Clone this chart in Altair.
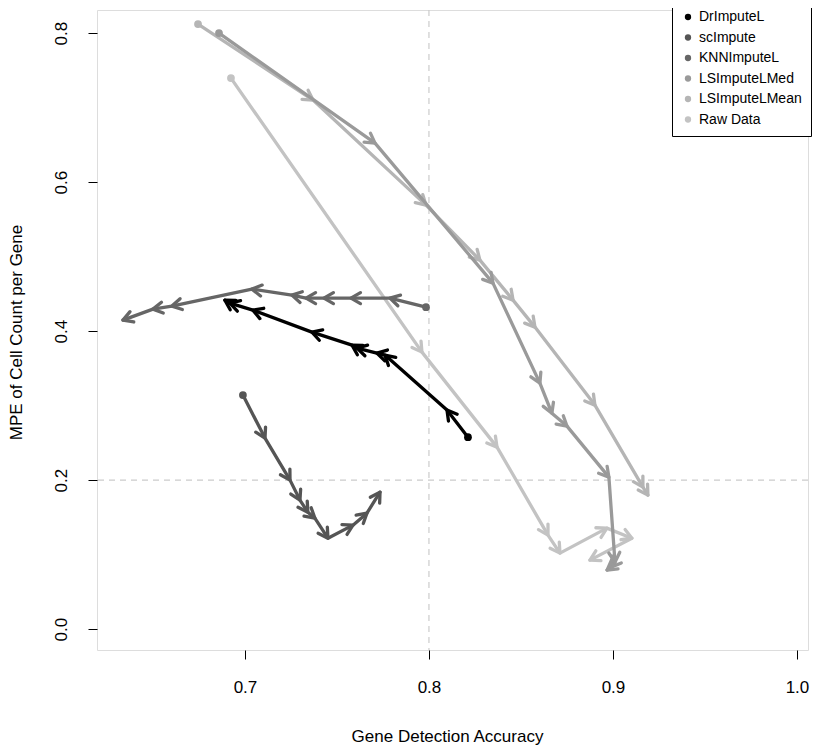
import math
import altair as alt
import pandas as pd

# ---- data ----
series_names = ["DrImputeL", "scImpute", "KNNImputeL", "LSImputeLMed", "LSImputeLMean", "Raw Data"]
series_colors = ["#000000", "#555555", "#666666", "#9a9a9a", "#b5b5b5", "#c3c3c3"]

dr_x = [0.8212, 0.8098, 0.7761, 0.7717, 0.7609, 0.7582, 0.7364, 0.7043, 0.6918, 0.6891]
dr_y = [0.2577, 0.2940, 0.3678, 0.3705, 0.3772, 0.3812, 0.3987, 0.4282, 0.4376, 0.4416]

sc_x = [0.6989, 0.7109, 0.7245, 0.7299, 0.7342, 0.7380, 0.7451, 0.7587, 0.7663, 0.7734]
sc_y = [0.3141, 0.2564, 0.2000, 0.1732, 0.1570, 0.1490, 0.1221, 0.1396, 0.1557, 0.1839]

knn_x = [0.7984, 0.7788, 0.7576, 0.7429, 0.7332, 0.7255, 0.7038, 0.6603, 0.6500, 0.6337]
knn_y = [0.4322, 0.4443, 0.4443, 0.4443, 0.4443, 0.4483, 0.4564, 0.4336, 0.4295, 0.4148]

med_x = [0.6859, 0.7707, 0.8348, 0.8603, 0.8668, 0.8750, 0.8978, 0.9011, 0.8990, 0.8968]
med_y = [0.8000, 0.6523, 0.4644, 0.3302, 0.2899, 0.2725, 0.2040, 0.0899, 0.0832, 0.0792]

mean_x = [0.6745, 0.7370, 0.7984, 0.8277, 0.8457, 0.8576, 0.8902, 0.9163, 0.9190]
mean_y = [0.8121, 0.7101, 0.5691, 0.4953, 0.4416, 0.4054, 0.3007, 0.1906, 0.1799]

raw_x = [0.6924, 0.7962, 0.8370, 0.8647, 0.8712, 0.8967, 0.9103, 0.8875]
raw_y = [0.7396, 0.3718, 0.2443, 0.1262, 0.1020, 0.1356, 0.1221, 0.0926]

xs_all = [dr_x, sc_x, knn_x, med_x, mean_x, raw_x]
ys_all = [dr_y, sc_y, knn_y, med_y, mean_y, raw_y]

x_ticks = [0.7, 0.8, 0.9, 1.0]
y_ticks = [0.0, 0.2, 0.4, 0.6, 0.8]
ref_x = [0.8]
ref_y = [0.2]

# ---- layout ----
X_DOMAIN = [0.6196, 1.006]
Y_DOMAIN = [-0.028, 0.831]
W, H = 711, 640
FONT = "Liberation Sans"

kx = W / (X_DOMAIN[1] - X_DOMAIN[0])
ky = H / (Y_DOMAIN[1] - Y_DOMAIN[0])

rows = []
for name, xs, ys in zip(series_names, xs_all, ys_all):
    for i, (x, y) in enumerate(zip(xs, ys)):
        if i == 0:
            ang = 0.0
        else:
            dx = (x - xs[i - 1]) * kx
            dy = -(y - ys[i - 1]) * ky
            ang = math.degrees(math.atan2(dy, dx)) % 360
        rows.append({"series": name, "idx": i, "x": x, "y": y, "angle": ang})
df = pd.DataFrame(rows)

xscale = alt.Scale(domain=X_DOMAIN, nice=False, zero=False)
yscale = alt.Scale(domain=Y_DOMAIN, nice=False, zero=False)

x_axis = alt.Axis(
    values=x_ticks, format=".1f", grid=False, domain=False,
    tickSize=9, tickColor="black", tickWidth=1,
    labelFontSize=17, labelColor="black", labelPadding=20, labelFont=FONT,
    title="Gene Detection Accuracy", titleFontSize=17, titleFontWeight="normal",
    titleColor="black", titleFont=FONT, titleBaseline="middle", titleY=86, titleX=350,
)
y_axis = alt.Axis(
    values=y_ticks, format=".1f", grid=False, domain=False,
    tickSize=9, tickColor="black", tickWidth=1,
    labelFontSize=17, labelColor="black", labelPadding=18, labelFont=FONT,
    labelAngle=270, labelAlign="center", labelBaseline="bottom",
    title="MPE of Cell Count per Gene", titleFontSize=17, titleFontWeight="normal",
    titleColor="black", titleFont=FONT, titleAngle=270, titleAlign="center",
    titleBaseline="middle", titleX=-81, titleY=322,
)

X = alt.X("x:Q", scale=xscale, axis=x_axis)
Y = alt.Y("y:Q", scale=yscale, axis=y_axis)

ARROW = "M-0.866,-0.5L0,0L-0.866,0.5"

layers = []
layers.append(
    alt.Chart(pd.DataFrame({"x": ref_x})).mark_rule(
        color="#cccccc", strokeWidth=1.2, strokeDash=[6, 5]
    ).encode(x=X)
)
layers.append(
    alt.Chart(pd.DataFrame({"y": ref_y})).mark_rule(
        color="#cccccc", strokeWidth=1.2, strokeDash=[6, 5]
    ).encode(y=Y)
)

draw_order = list(range(len(series_names)))[::-1]
for k in draw_order:
    name, col = series_names[k], series_colors[k]
    base = alt.Chart(df).transform_filter(alt.datum.series == name)
    layers.append(
        base.mark_line(color=col, strokeWidth=3.3, strokeCap="round", strokeJoin="round").encode(
            x=X, y=Y, order="idx:Q"
        )
    )
    layers.append(
        base.transform_filter(alt.datum.idx > 0).mark_point(
            shape=ARROW, filled=False, color=col, strokeWidth=3.3, size=484, opacity=1,
            strokeCap="round", strokeJoin="round",
        ).encode(x=X, y=Y, angle=alt.Angle("angle:Q", scale=None))
    )

layers.append(
    alt.Chart(df).transform_filter(alt.datum.idx == 0).mark_point(
        shape="circle", filled=True, size=60, opacity=1
    ).encode(
        x=X, y=Y,
        color=alt.Color(
            "series:N",
            scale=alt.Scale(domain=series_names, range=series_colors),
            legend=alt.Legend(
                orient="none", legendX=575, legendY=-9, title=None,
                symbolType="circle", symbolSize=40, symbolStrokeWidth=0,
                labelFont=FONT, labelFontSize=14, labelColor="black",
                strokeColor="black", fillColor="white", padding=9,
                rowPadding=6.5, labelOffset=4, cornerRadius=0,
            ),
        ),
    )
)

chart = alt.layer(*layers).properties(
    width=W, height=H,
    padding={"left": 89, "top": 2, "right": 9, "bottom": 95},
    autosize=alt.AutoSizeParams(type="none"),
).configure_view(stroke="black", strokeWidth=1.2).configure(font=FONT)

chart.save("out.html", embed_options={"renderer": "svg", "actions": False})
